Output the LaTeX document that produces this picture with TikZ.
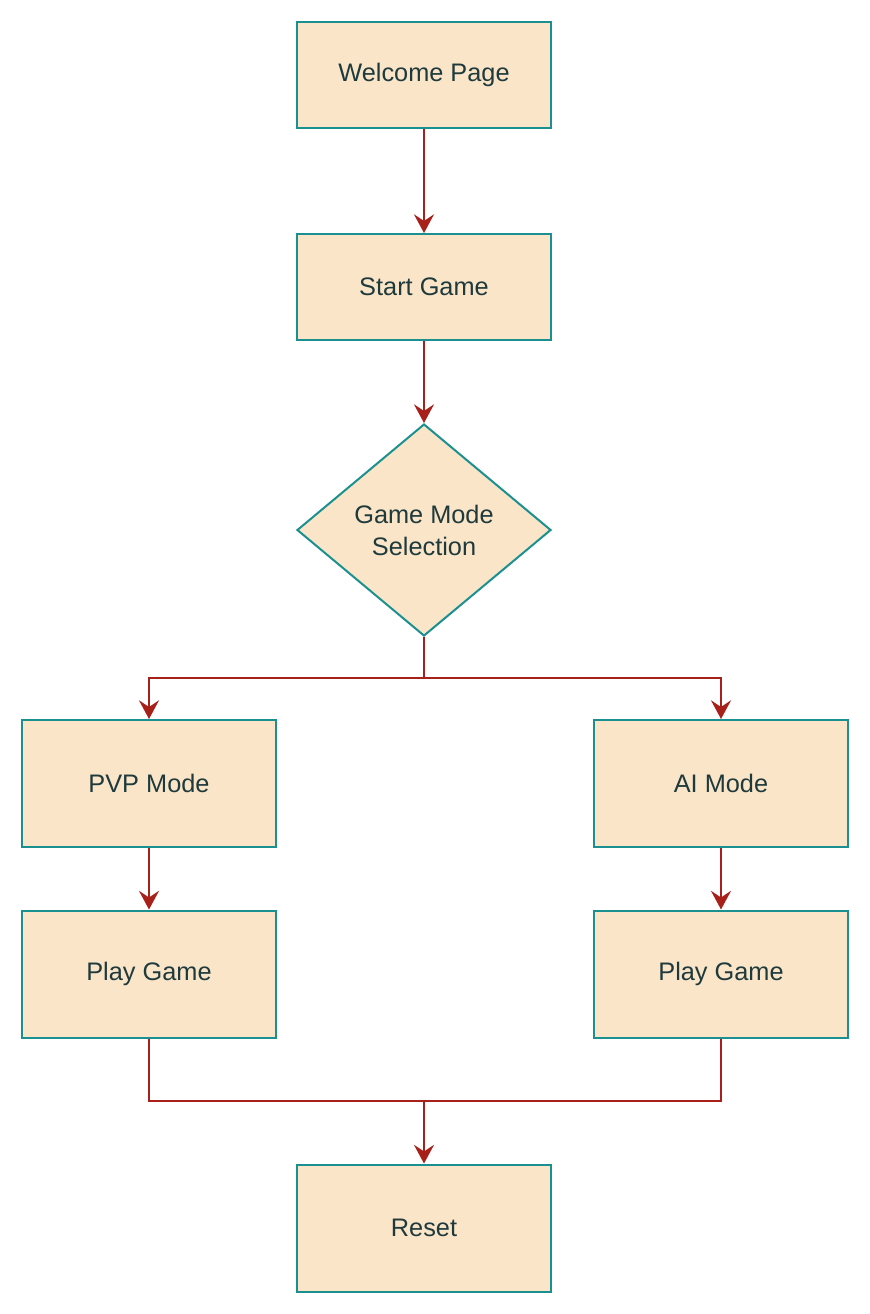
\documentclass[tikz,border=0pt]{standalone}
\usepackage{fontspec}
\setmainfont{Liberation Sans}
\usetikzlibrary{shapes.geometric,arrows.meta}
\definecolor{boxfill}{RGB}{250,229,200}
\definecolor{boxline}{RGB}{26,144,144}
\definecolor{arrowred}{RGB}{168,32,26}
\definecolor{txt}{RGB}{31,58,61}
\begin{document}
\begin{tikzpicture}[x=0.75pt,y=-0.75pt,
  box/.style={draw=boxline,fill=boxfill,line width=1.5pt,minimum width=190.5pt,inner sep=0pt,text=txt,font=\fontsize{19}{24}\selectfont,align=center},
  boxA/.style={box,minimum height=79.5pt},
  boxB/.style={box,minimum height=95.25pt},
  dia/.style={box,diamond,minimum width=190.5pt,minimum height=159pt},
  conn/.style={draw=arrowred,line width=2pt},
  arr/.style={conn,-{Stealth[length=14pt,width=15pt,inset=5pt]}}]
\useasboundingbox (0,0) rectangle (870,1314);
\node[boxA] (welcome) at (424,75) {Welcome Page};
\node[boxA] (start) at (424,287) {Start Game};
\node[dia] (mode) at (424,530) {Game Mode\\Selection};
\node[boxB] (pvp) at (149,783.5) {PVP Mode};
\node[boxB] (ai) at (721,783.5) {AI Mode};
\node[boxB] (play1) at (149,974) {Play Game};
\node[boxB] (play2) at (721,974) {Play Game};
\node[boxB] (reset) at (424,1228) {Reset};
\coordinate (branch) at (424,678);
\coordinate (merge) at (424,1101);
\draw[arr] (welcome.south) -- (start.north);
\draw[arr] (start.south) -- (mode.north);
\draw[conn] (mode.south) -- (branch);
\draw[arr] (branch) -| (pvp.north);
\draw[arr] (branch) -| (ai.north);
\draw[arr] (pvp.south) -- (play1.north);
\draw[arr] (ai.south) -- (play2.north);
\draw[conn] (play1.south) |- (merge) -| (play2.south);
\draw[arr] (merge) -- (reset.north);
\end{tikzpicture}
\end{document}
